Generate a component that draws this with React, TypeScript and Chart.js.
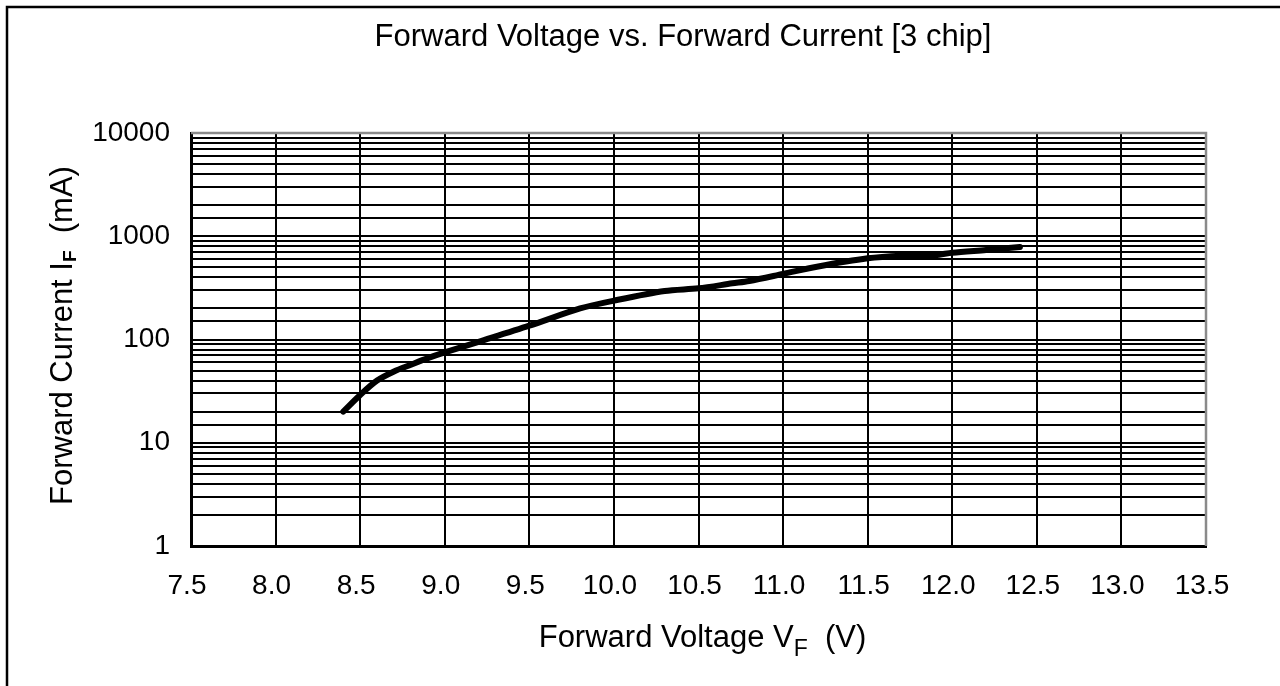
import React, { useEffect, useRef } from "react";
import { Chart, registerables } from "chart.js";

Chart.register(...registerables);

const chartTitle = "Forward Voltage vs. Forward Current [3 chip]";
const voltage = [8.4, 8.5, 8.6, 8.7, 8.8, 8.9, 9.0, 9.2, 9.5, 9.8, 10.0, 10.3, 10.5, 10.7, 10.8, 11.0, 11.2, 11.5, 11.7, 11.9, 12.0, 12.2, 12.4];
const current = [20, 29, 40, 49, 57, 66, 75, 95, 136, 200, 238, 295, 313, 350, 369, 432, 507, 611, 648, 658, 693, 736, 785];
const xMin = 7.5;
const xMax = 13.5;
const xStep = 0.5;
const yMin = 1;
const yMax = 10000;
const yTickLabels = ["1", "10", "100", "1000", "10000"];

const FONT = "'Liberation Sans', Arial, sans-serif";

type Seg = { text: string; size: number; bold?: boolean; dy?: number };

function drawSegs(ctx: CanvasRenderingContext2D, segs: Seg[], cx: number, baseY: number) {
  let total = 0;
  const widths: number[] = [];
  for (const s of segs) {
    ctx.font = `${s.bold ? "bold " : ""}${s.size}px ${FONT}`;
    const w = ctx.measureText(s.text).width;
    widths.push(w);
    total += w;
  }
  let x = cx - total / 2;
  segs.forEach((s, i) => {
    ctx.font = `${s.bold ? "bold " : ""}${s.size}px ${FONT}`;
    ctx.fillText(s.text, x, baseY + (s.dy || 0));
    x += widths[i];
  });
}

const decorPlugin = {
  id: "decor",
  beforeDraw(chart: any) {
    const ctx = chart.ctx as CanvasRenderingContext2D;
    ctx.save();
    ctx.fillStyle = "#fff";
    ctx.fillRect(0, 0, chart.width, chart.height);
    ctx.strokeStyle = "#000";
    ctx.lineWidth = 2.5;
    ctx.beginPath();
    ctx.moveTo(7, chart.height + 5);
    ctx.lineTo(7, 7);
    ctx.lineTo(chart.width + 5, 7);
    ctx.stroke();
    ctx.restore();
  },
  afterDraw(chart: any) {
    const ctx = chart.ctx as CanvasRenderingContext2D;
    const a = chart.chartArea;
    ctx.save();
    // grey top / right frame
    ctx.strokeStyle = "#8a8a8a";
    ctx.lineWidth = 2.5;
    ctx.beginPath();
    ctx.moveTo(a.left, a.top);
    ctx.lineTo(a.right, a.top);
    ctx.lineTo(a.right, a.bottom);
    ctx.stroke();

    ctx.fillStyle = "#000";
    ctx.textAlign = "left";
    ctx.textBaseline = "alphabetic";
    // main title
    drawSegs(ctx, [{ text: chartTitle, size: 31 }], 683, 46);
    // x title
    const cx = (a.left + a.right) / 2 + 4;
    drawSegs(
      ctx,
      [
        { text: "Forward Voltage V", size: 31 },
        { text: "F", size: 23, dy: 9 },
        { text: "  (V)", size: 31 },
      ],
      cx,
      647
    );
    // y title
    const cy = (a.top + a.bottom) / 2 - 4;
    ctx.translate(72, cy);
    ctx.rotate(-Math.PI / 2);
    drawSegs(
      ctx,
      [
        { text: "Forward Current I", size: 31 },
        { text: "F", size: 19, bold: true, dy: 4 },
        { text: "  (mA)", size: 31 },
      ],
      0,
      0
    );
    ctx.restore();
  },
};

export default function App() {
  const ref = useRef<HTMLCanvasElement | null>(null);
  useEffect(() => {
    document.body.style.margin = "0";
    if (!ref.current) return;
    const chart = new Chart(ref.current, {
      type: "line",
      data: {
        datasets: [
          {
            data: voltage.map((v, i) => ({ x: v, y: current[i] })),
            borderColor: "#000",
            borderWidth: 6,
            pointRadius: 0,
            tension: 0.3,
            borderCapStyle: "round",
            borderJoinStyle: "round",
            fill: false,
          },
        ],
      },
      options: {
        animation: false,
        responsive: false,
        devicePixelRatio: 1,
        layout: { padding: { left: 0, top: 133, right: 74, bottom: 0 } },
        plugins: {
          legend: { display: false },
          title: { display: false },
          tooltip: { enabled: false },
        },
        scales: {
          x: {
            type: "linear",
            min: xMin,
            max: xMax,
            afterFit: (s: any) => {
              s.height = 140;
            },
            afterBuildTicks: (s: any) => {
              const t = [];
              for (let v = xMin; v <= xMax + 1e-9; v += xStep) t.push({ value: Math.round(v * 10) / 10 });
              s.ticks = t;
            },
            ticks: {
              autoSkip: false,
              maxRotation: 0,
              padding: 23,
              labelOffset: -4,
              color: "#000",
              font: { family: FONT, size: 28 },
              callback: (v: any) => Number(v).toFixed(1),
            },
            grid: { color: "#000", lineWidth: 2, drawTicks: false },
            border: { color: "#000", width: 3 },
          },
          y: {
            type: "logarithmic",
            min: yMin,
            max: yMax,
            afterFit: (s: any) => {
              s.width = 191;
            },
            ticks: {
              autoSkip: false,
              padding: 21,
              color: "#000",
              font: { family: FONT, size: 28 },
              callback: (v: any) => {
                const s = String(Math.round(Number(v)));
                return yTickLabels.includes(s) ? s : "";
              },
            },
            grid: { color: "#000", lineWidth: 2, drawTicks: false },
            border: { color: "#000", width: 3 },
          },
        },
      },
      plugins: [decorPlugin],
    } as any);
    return () => chart.destroy();
  }, []);
  return (
    <div style={{ position: "absolute", left: 0, top: 0, width: 1280, height: 686 }}>
      <canvas ref={ref} width={1280} height={686} style={{ width: 1280, height: 686, display: "block" }} />
    </div>
  );
}
